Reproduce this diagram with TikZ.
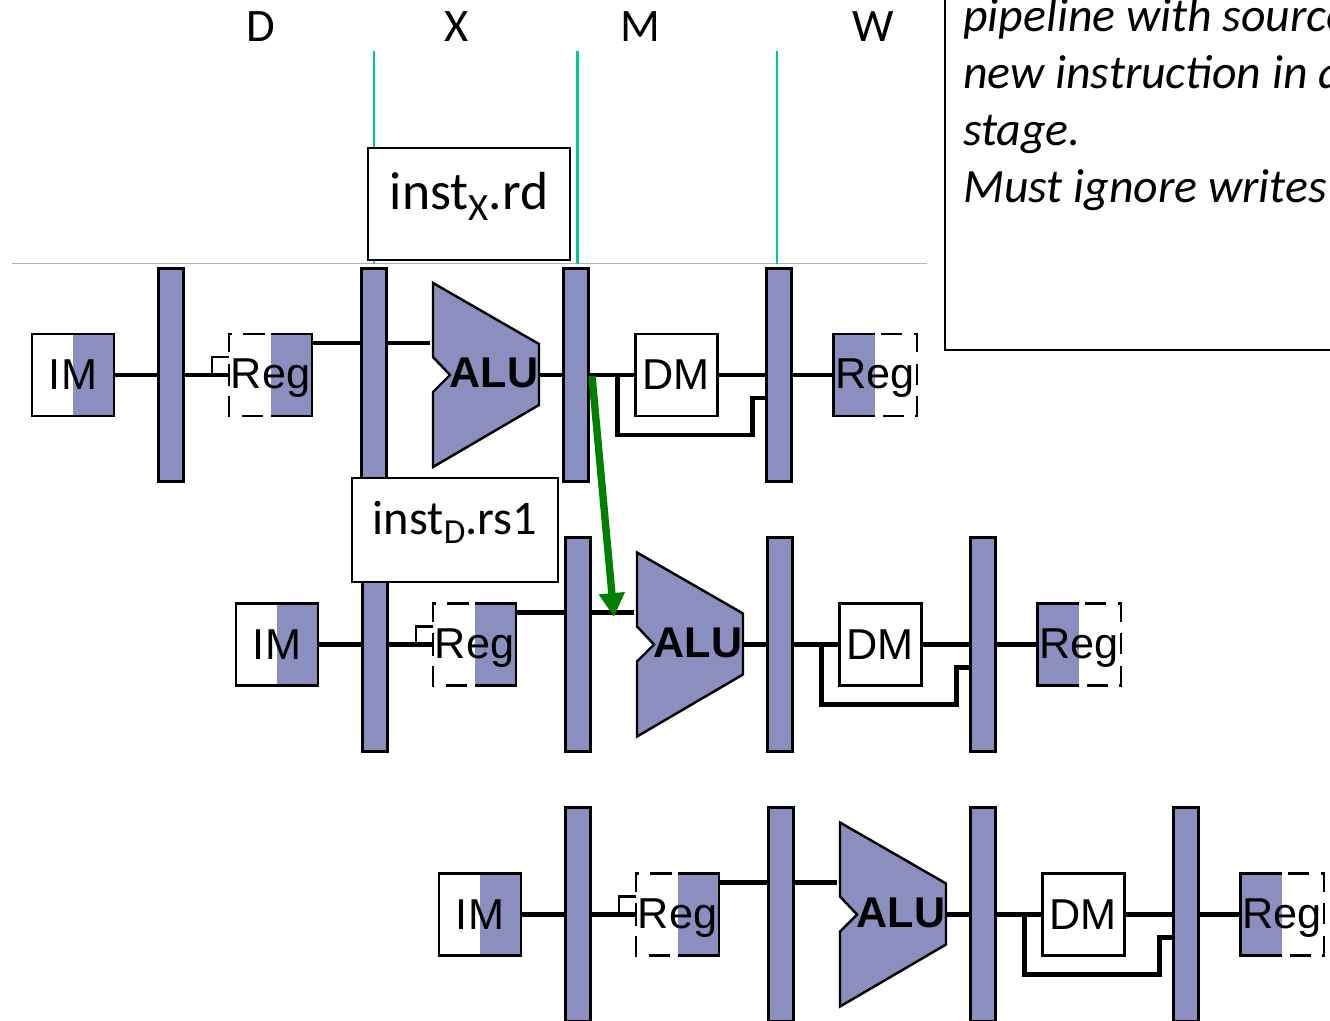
\documentclass[tikz,border=0pt]{standalone}
\usepackage{fontspec}
\setmainfont{Carlito}
\newfontfamily\pipefont{Liberation Sans}
\usetikzlibrary{arrows.meta, positioning}
\definecolor{pipeblue}{RGB}{138,143,191}
\definecolor{stageline}{RGB}{0,200,150}
\definecolor{fwdgreen}{RGB}{0,128,0}
\newcommand{\lowsub}[2]{\raisebox{-0.2em}{\fontsize{#1}{#1}\selectfont #2}}
\tikzstyle{latch} = [rectangle, minimum width=0.5cm, minimum height=4.28cm, outer sep=0pt, line width=1.7pt, draw=black, fill=pipeblue]
\tikzstyle{unit} = [rectangle, minimum width=1.64cm, minimum height=1.64cm, inner sep=0pt, outer sep=0pt, line width=1.4pt, draw=black, font=\pipefont\fontsize{24.6pt}{28pt}\selectfont]
\tikzstyle{imbox} = [unit, path picture={\fill[pipeblue] (path picture bounding box.north) rectangle (path picture bounding box.south east);}]
\tikzstyle{halfreg} = [rectangle, minimum width=0.83cm, minimum height=1.64cm, inner sep=0pt, outer sep=0pt, fill=pipeblue]
\tikzstyle{dashreg} = [rectangle, minimum width=0.83cm, minimum height=1.64cm, inner sep=0pt, outer sep=0pt]
\tikzstyle{regedge} = [line width=1.4pt, black]
\tikzstyle{regdash} = [line width=1.2pt, black, dash pattern=on 12pt off 6.5pt, dash phase=15pt]
\tikzstyle{regtext} = [inner sep=0pt, font=\pipefont\fontsize{24.6pt}{28pt}\selectfont]
\tikzstyle{alutext} = [inner sep=0pt, font=\pipefont\bfseries\fontsize{24.5pt}{28pt}\selectfont]
\tikzstyle{alushape} = [line width=1.4pt, draw=black, fill=pipeblue, line join=miter]
\tikzstyle{wire} = [line width=2.4pt, black]
\tikzstyle{loopwire} = [line width=2.8pt, black]
\tikzstyle{stub} = [line width=1.4pt, black]
\tikzstyle{stagelabel} = [inner sep=0pt, font=\fontsize{26.5pt}{30pt}\selectfont]
\tikzstyle{instbox} = [rectangle, draw=black, fill=white, line width=1pt, inner sep=0pt, outer sep=0pt, text height=0.7cm]
\tikzstyle{notetext} = [inner sep=0pt, align=left, font=\itshape\fontsize{27.2pt}{32.4pt}\selectfont]
\tikzstyle{fwdarrow} = [-{Triangle[length=13.6pt, width=14pt]}, line width=4.2pt, fwdgreen]

\begin{document}
\begin{tikzpicture}[x=0.02cm, y=-0.02cm]
				
				% Page of the reference, everything past it is cut off
				\useasboundingbox (0,0) rectangle (1330,1021);
				\clip (0,0) rectangle (1330,1021);
				
				% Stage labels
				\node[stagelabel] (stageD) at (261,27) {D};
				\node[stagelabel] (stageX) at (457,27) {X};
				\node[stagelabel] (stageM) at (640,27) {M};
				\node[stagelabel] (stageW) at (873,27) {W};
				
				\coordinate (lineX) at (374,51);
				\coordinate (lineM) at (577.5,51);
				\coordinate (lineW) at (777,51);
				\coordinate (ruleL) at (12,263.7);
				\coordinate (ruleR) at (927,263.7);
				\draw[line width=0.5pt, black!30] (ruleL) -- (ruleR);
				\draw[line width=1.2pt, stageline] (lineX) -- (lineX |- ruleL);
				\draw[line width=1.2pt, stageline] (lineM) -- (lineM |- ruleL);
				\draw[line width=1.2pt, stageline] (lineW) -- (lineW |- ruleL);
				
				% One row per instruction
				\foreach \row/\dx/\dy in {first/0/0, second/204/269.5, third/407/539.5} {
					\begin{scope}[shift={(\dx,\dy)}]
						\node[imbox] (\row-im) at (73,375) {IM};
						\node[latch] (\row-latchA) at ([xshift=1.96cm]\row-im.center) {};
						\node[latch] (\row-latchB) at ([xshift=4.06cm]\row-latchA.center) {};
						\node[latch] (\row-latchC) at ([xshift=4.05cm]\row-latchB.center) {};
						\node[latch] (\row-latchD) at ([xshift=4.05cm]\row-latchC.center) {};
						
						\node[dashreg] (\row-regL) at ([xshift=1.58cm]\row-latchA.center) {};
						\node[halfreg] (\row-regR) at ([xshift=0.83cm]\row-regL.center) {};
						\draw[regdash] (\row-regL.north east) -- (\row-regL.north west) -- (\row-regL.south west) -- (\row-regL.south east);
						\draw[regedge] (\row-regR.north west) -- (\row-regR.north east) -- (\row-regR.south east) -- (\row-regR.south west);
						\node[regtext] (\row-reg) at ([xshift=0.41cm, yshift=-0.07cm]\row-regL.center) {Reg};
						
						\draw[alushape] (433,283) -- (539,344) -- (539,405) -- (433,467) -- (433,392) -- (450,375) -- (433,357) -- cycle;
						\node[alutext] (\row-alu) at (494,373) {ALU};
						\coordinate (\row-aluin) at (430,343);
						\coordinate (\row-aluout) at (539,375);
						
						\node[unit] (\row-dm) at ([xshift=2cm]\row-latchC.center) {DM};
						\node[halfreg] (\row-wbR) at ([xshift=1.51cm]\row-latchD.center) {};
						\node[dashreg] (\row-wbL) at ([xshift=0.83cm]\row-wbR.center) {};
						\draw[regedge] (\row-wbR.north east) -- (\row-wbR.north west) -- (\row-wbR.south west) -- (\row-wbR.south east);
						\draw[regdash] (\row-wbL.north west) -- (\row-wbL.north east) -- (\row-wbL.south east) -- (\row-wbL.south west);
						\node[regtext] (\row-wb) at ([xshift=0.41cm, yshift=-0.07cm]\row-wbR.center) {Reg};
						
						% Edges
						\draw[wire] (\row-im) -- (\row-latchA);
						\draw[wire] (\row-latchA) -- (\row-regL);
						\draw[stub] (\row-regL.west) -- ++(-17,0) -- ++(0,-18) -- ++(17,0);
						\draw[stub] ([yshift=0.22cm]\row-regL.west) -- ([yshift=-0.22cm]\row-regL.west);
						\draw[wire] (\row-regR.east |- \row-aluin) -- (\row-latchB.west |- \row-aluin);
						\draw[wire] (\row-latchB.east |- \row-aluin) -- (\row-aluin);
						\draw[wire] (\row-aluout) -- (\row-latchC.west |- \row-aluout);
						\draw[wire] (\row-latchC) -- (\row-dm);
						\draw[wire] (\row-dm) -- (\row-latchD);
						\draw[loopwire] ([xshift=-0.36cm]\row-dm.west) -- ++(0,60) -- ++(135,0) -- ++(0,-37) -- ++(14,0);
						\draw[wire] (\row-latchD) -- (\row-wbR);
					\end{scope}
				}
				
				% Forwarding path
				\coordinate (fwdsrc) at (592,376);
				\coordinate (fwdtip) at (614,617);
				\draw[fwdarrow] (fwdsrc) -- (fwdtip);
				
				% Register labels on top of the latches
				\node[instbox, minimum width=4.04cm, minimum height=2.24cm, text depth=0.46cm, font=\fontsize{30.5pt}{34pt}\selectfont] (instX) at (469,204) {inst\lowsub{22pt}{X}.rd};
				\node[instbox, minimum width=4.12cm, minimum height=2.08cm, text depth=0.54cm, font=\fontsize{27.5pt}{32pt}\selectfont] (instD) at (455,530) {inst\lowsub{20pt}{D}.rs1};
				
				% Note, cut by the page at the top and on the right
				\node[rectangle, draw=black, line width=1.2pt, minimum width=12cm, minimum height=10cm, anchor=south west] (notebox) at (943.5,351) {};
				\node[notetext, anchor=north west] (note) at (963,-2) {pipeline with source\\new instruction in a\\stage.\\Must ignore writes};
				
			\end{tikzpicture}
\end{document}
